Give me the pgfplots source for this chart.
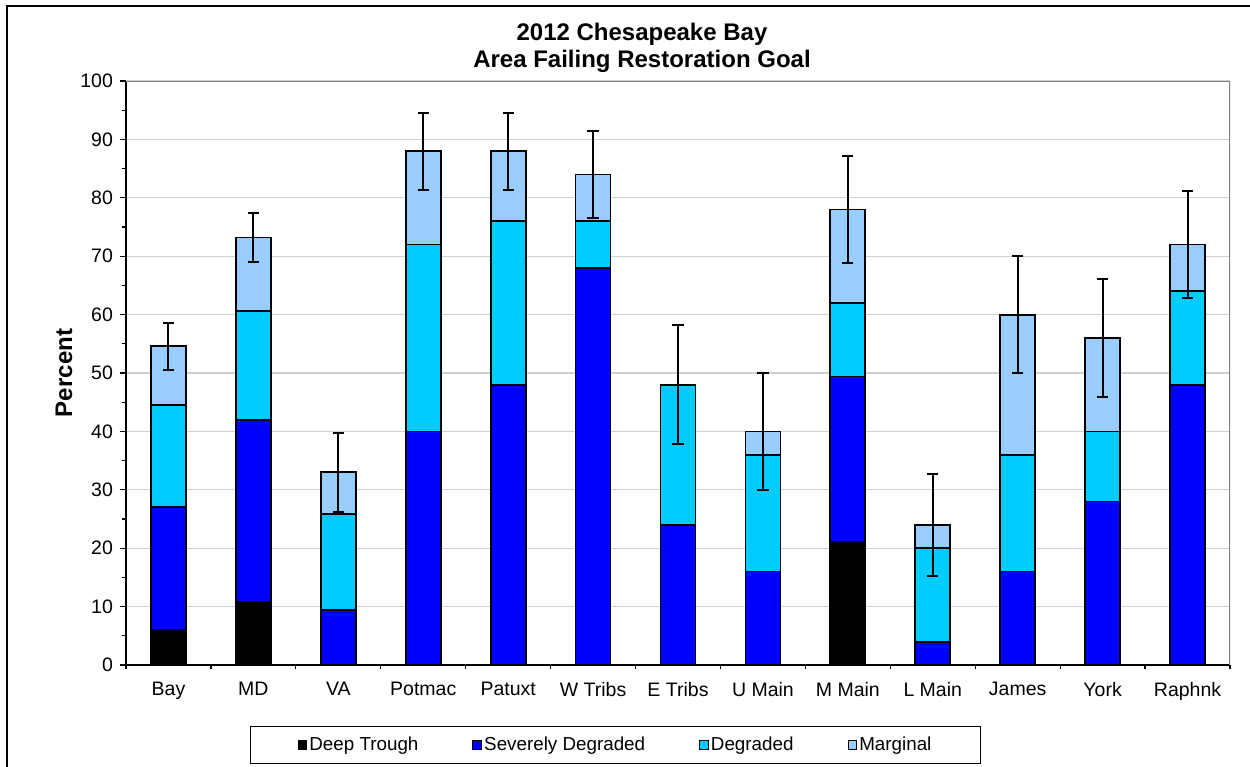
\documentclass[border=0pt]{standalone}
\usepackage{fontspec}
\setmainfont{Liberation Sans}
\usepackage{pgfplots}
\pgfplotsset{compat=1.18}
\definecolor{sev}{RGB}{0,0,255}
\definecolor{deg}{RGB}{0,204,255}
\definecolor{marg}{RGB}{153,204,255}
\definecolor{gridc}{RGB}{208,208,208}
\pgfplotsset{mylegend/.style={legend image code/.code={\draw[##1,line width=0.5pt] (0pt,-2.2pt) rectangle (4.4pt,2.2pt);}}}
\begin{document}
\begin{tikzpicture}
\useasboundingbox (0,0) rectangle (625pt,-383.5pt);
\draw[line width=0.8pt] (3.5pt,-420pt) -- (3.5pt,-3pt) -- (660pt,-3pt);
\node[font=\fontsize{12}{14}\selectfont\bfseries, anchor=base] at (321pt,-20pt) {2012 Chesapeake Bay};
\node[font=\fontsize{12}{14}\selectfont\bfseries, anchor=base] at (321pt,-33.6pt) {Area Failing Restoration Goal};
\begin{axis}[
  at={(63pt,-40.5pt)}, anchor=north west,
  scale only axis, width=552pt, height=292pt,
  ybar stacked, bar width=17.5pt,
  xmin=-0.5, xmax=12.5, ymin=0, ymax=100,
  xtick={0,...,12},
  xticklabels={Bay,MD,VA,Potmac,Patuxt,W Tribs,E Tribs,U Main,M Main,L Main,James,York,Raphnk},
  major x tick style={draw=none},
  minor xtick={-0.5,0.5,...,12.5},
  ytick={0,10,...,100}, minor ytick={5,15,...,95},
  tick align=outside, major tick length=3pt, minor tick length=2.2pt,
  tick style={black, line width=0.6pt},
  ymajorgrids, major grid style={gridc, line width=0.6pt},
  axis x line*=bottom, axis y line*=left,
  axis line style={-, black, line width=0.7pt},
  /pgf/number format/assume math mode=true,
  ticklabel style={font=\fontsize{9.75}{11}\selectfont},
  xticklabel style={yshift=-2pt},
  ylabel={Percent},
  every axis y label/.style={at={(axis description cs:-0.0562,0.5)}, rotate=90, anchor=center, font=\fontsize{12}{14}\selectfont\bfseries},
  legend columns=4,
  legend style={at={(0.4434,-0.137)}, anchor=center, draw=black, line width=0.6pt,
    font=\fontsize{9.4}{11}\selectfont, inner xsep=23.5pt, inner ysep=3pt,
    /tikz/every even column/.append style={column sep=26pt}, nodes={inner xsep=1pt}},
  legend cell align=left,
]
\addplot[fill=black, draw=black, line width=0.9pt, mylegend] coordinates {(0,6) (1,10.8) (2,0) (3,0) (4,0) (5,0) (6,0) (7,0) (8,21.1) (9,0) (10,0) (11,0) (12,0)};
\addplot[fill=sev, draw=black, line width=0.9pt, mylegend] coordinates {(0,21) (1,31.2) (2,9.4) (3,40) (4,48) (5,68) (6,24) (7,16) (8,28.3) (9,4) (10,16) (11,28) (12,48)};
\addplot[fill=deg, draw=black, line width=0.9pt, mylegend] coordinates {(0,17.5) (1,18.6) (2,16.4) (3,32) (4,28) (5,8) (6,24) (7,20) (8,12.6) (9,16) (10,20) (11,12) (12,16)};
\addplot[fill=marg, draw=black, line width=0.9pt, mylegend] coordinates {(0,10.1) (1,12.6) (2,7.2) (3,16) (4,12) (5,8) (6,0) (7,4) (8,16) (9,4) (10,24) (11,16) (12,8)};
\legend{Deep Trough,Severely Degraded,Degraded,Marginal}
\draw[gray, line width=0.8pt] (rel axis cs:0,1) -- (rel axis cs:1,1) -- (rel axis cs:1,0);
\end{axis}
\begin{axis}[
  at={(63pt,-40.5pt)}, anchor=north west,
  scale only axis, width=552pt, height=292pt,
  xmin=-0.5, xmax=12.5, ymin=0, ymax=100, hide axis,
]
\addplot[draw=none, mark=none,
  error bars/.cd, y dir=both, y explicit,
  error bar style={black, line width=1pt},
  error mark options={rotate=90, black, line width=1pt, mark size=2.8pt}]
  coordinates {(0,54.6) +- (0,4) (1,73.2) +- (0,4.2) (2,33) +- (0,6.8) (3,88) +- (0,6.6) (4,88) +- (0,6.6) (5,84) +- (0,7.5) (6,48) +- (0,10.2) (7,40) +- (0,10) (8,78) +- (0,9.2) (9,24) +- (0,8.7) (10,60) +- (0,10) (11,56) +- (0,10.1) (12,72) +- (0,9.1)};
\end{axis}
\end{tikzpicture}
\end{document}
